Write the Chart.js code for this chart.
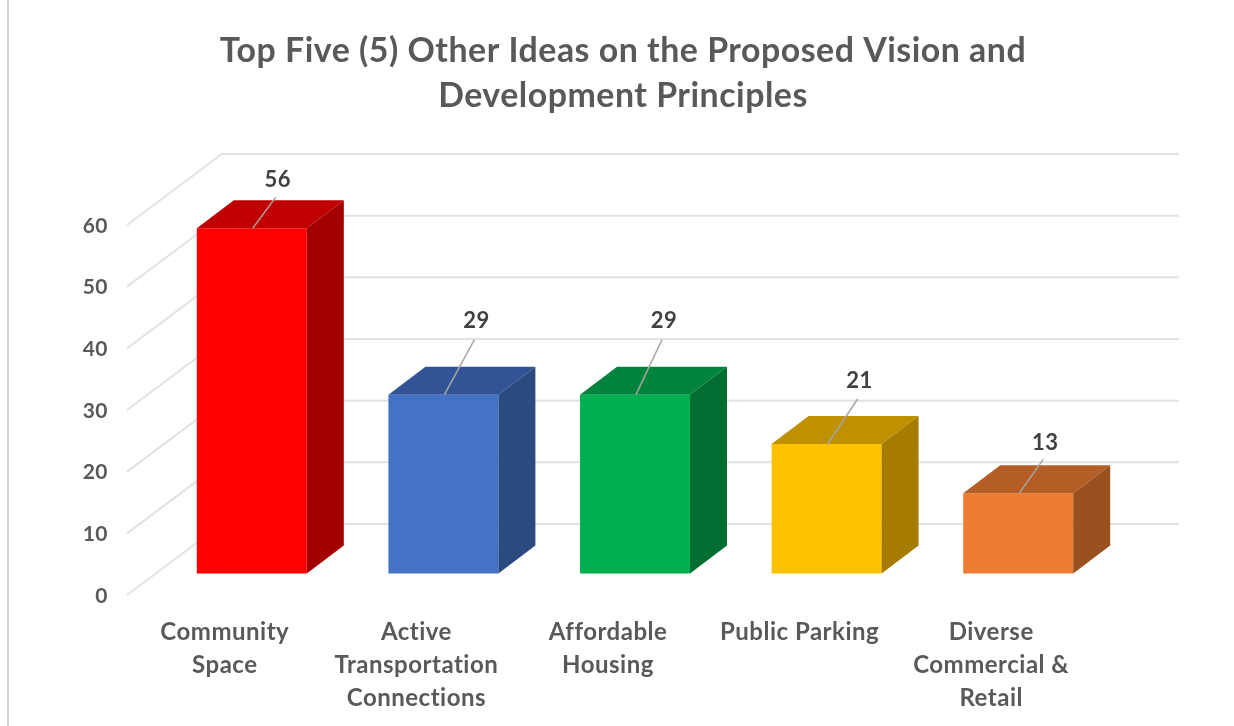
<!DOCTYPE html>
<html><head><meta charset="utf-8">
<script src="https://cdn.jsdelivr.net/npm/chart.js@4/dist/chart.umd.min.js"></script>
<style>
html,body{margin:0;padding:0;background:#fff;width:1234px;height:726px;overflow:hidden}
#wrap{position:relative;width:1246px;height:726px}
#edge{position:absolute;left:7px;top:0;width:2px;height:726px;background:#d4d4d4}
canvas{position:absolute;left:0;top:0}
</style></head><body>
<div id="wrap"><canvas id="c" width="1246" height="726"></canvas><div id="edge"></div></div>
<script>
const titleLines = ['Top Five (5) Other Ideas on the Proposed Vision and','Development Principles'];
const categories = [['Community','Space'],['Active','Transportation','Connections'],['Affordable','Housing'],['Public Parking'],['Diverse','Commercial &','Retail']];
const values = [56,29,29,21,13];
const frontColors = ['#ff0000','#4472c4','#00b050','#ffc000','#ed7d31'];
const topColors   = ['#c00000','#325496','#00843b','#bf9000','#b45d24'];
const sideColors  = ['#a30000','#2a4a80','#006e31','#a67c00','#9a5120'];
const leaderDx = [23,30,26,30,24];
const leaderDy = [31,55,55,45,34];
const labelRise = [17,19,19,18,16];

const FONT = 'Lato, Carlito, sans-serif';
const PX_PER_UNIT = 370/60, ZERO = 573.5, AREA_TOP = ZERO-370, AREA_BOTTOM = 600, LABEL_ZERO = 595;

const decor = {
  id:'decor',
  beforeDraw(chart){ chart.ctx.letterSpacing='0.5px'; },
  beforeDatasetsDraw(chart){
    const {ctx, chartArea:a, scales} = chart, s = scales.yLabels;
    ctx.save();
    ctx.strokeStyle='#e2e2e2'; ctx.lineWidth=2; ctx.lineJoin='miter';
    s.ticks.forEach(t=>{
      const y = s.getPixelForValue(t.value);
      ctx.beginPath();
      ctx.moveTo(a.left-29,y);
      ctx.lineTo(a.left+66,y-71);
      ctx.lineTo(a.right+65,y-71);
      ctx.stroke();
    });
    ctx.restore();
  },
  afterDatasetsDraw(chart){
    const {ctx} = chart, bars = chart.getDatasetMeta(0).data, dx=37, dy=28;
    ctx.save();
    bars.forEach((b,i)=>{
      const l=b.x-b.width/2, r=b.x+b.width/2, t=b.y, bt=b.base;
      ctx.fillStyle=topColors[i];
      ctx.beginPath(); ctx.moveTo(l,t); ctx.lineTo(l+dx,t-dy); ctx.lineTo(r+dx,t-dy); ctx.lineTo(r,t); ctx.closePath(); ctx.fill();
      ctx.fillStyle=sideColors[i];
      ctx.beginPath(); ctx.moveTo(r,t); ctx.lineTo(r+dx,t-dy); ctx.lineTo(r+dx,bt-dy); ctx.lineTo(r,bt); ctx.closePath(); ctx.fill();
    });
    bars.forEach((b,i)=>{
      const ex=b.x+leaderDx[i]+1, ey=b.y-leaderDy[i];
      ctx.strokeStyle='#a6a6a6'; ctx.lineWidth=1.5;
      ctx.beginPath(); ctx.moveTo(b.x+1,b.y); ctx.lineTo(ex,ey); ctx.stroke();
      ctx.fillStyle='#404040'; ctx.font='bold 22px '+FONT; ctx.textAlign='center'; ctx.textBaseline='middle';
      ctx.fillText(String(values[i]),ex+2,ey-labelRise[i]);
    });
    ctx.restore();
  }
};

new Chart(document.getElementById('c'),{
  type:'bar',
  data:{labels:categories,datasets:[{data:values,yAxisID:'y',backgroundColor:frontColors,borderWidth:0,barPercentage:0.574,categoryPercentage:1}]},
  plugins:[decor],
  options:{
    responsive:false,animation:false,
    plugins:{
      legend:{display:false},tooltip:{enabled:false},
      title:{display:true,text:titleLines,color:'#595959',font:{family:FONT,size:33.9,weight:'bold',lineHeight:45/33.9},padding:{top:28.5,bottom:AREA_TOP-118.5}}
    },
    scales:{
      x:{grid:{display:false,drawTicks:false},border:{display:false},
         afterFit(s){s.height=726-AREA_BOTTOM;},
         ticks:{color:'#595959',font:{family:FONT,size:24,weight:'bold',lineHeight:33/24},padding:16,labelOffset:-27,maxRotation:0,minRotation:0,autoSkip:false}},
      y:{display:false,min:-(AREA_BOTTOM-ZERO)/PX_PER_UNIT,max:60},
      yLabels:{position:'left',
         min:-(AREA_BOTTOM-LABEL_ZERO)/PX_PER_UNIT,max:(LABEL_ZERO-AREA_TOP)/PX_PER_UNIT,
         grid:{display:false,drawTicks:false},border:{display:false},
         afterFit(s){s.width=156;},
         ticks:{stepSize:10,includeBounds:false,autoSkip:false,color:'#595959',font:{family:FONT,size:21,weight:'bold'},padding:48,labelOffset:1}},
      spacer:{position:'right',grid:{display:false,drawTicks:false},border:{display:false},
         afterFit(s){s.width=132;},ticks:{display:false}}
    }
  }
});
</script>
</body></html>
